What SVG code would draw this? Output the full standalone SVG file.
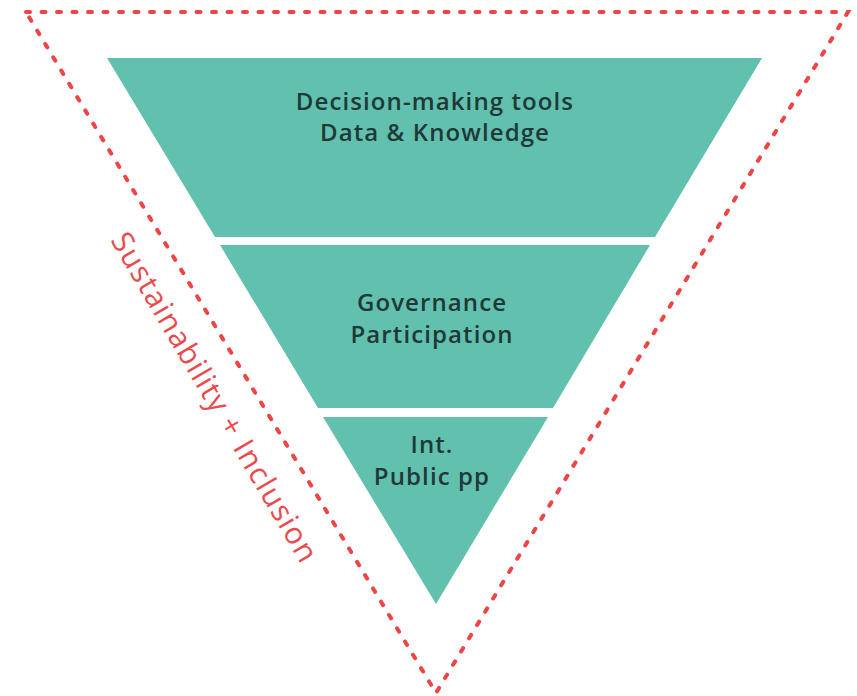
<svg xmlns="http://www.w3.org/2000/svg" width="857" height="696" viewBox="0 0 857 696">
  <style>
    .band { fill: #62c0af; }
    .label { font-family: "Open Sans", "Liberation Sans", sans-serif; font-weight: 600; font-size: 24px; letter-spacing: 1.1px; fill: #1f3936; text-anchor: middle; }
    .frame { fill: none; stroke: #ef4444; stroke-width: 4; stroke-linecap: round; stroke-dasharray: 4 11.5; }
    .side { font-family: "Open Sans", "Liberation Sans", sans-serif; font-weight: 500; font-size: 30px; letter-spacing: 1.3px; fill: #ea4a4c; }
  </style>
  <rect width="857" height="696" fill="#ffffff"/>

  <!-- dashed outer frame -->
  <g id="connectors">
    <path class="frame" d="M26 12 L848 12 L436 693 Z"/>
  </g>

  <!-- top band -->
  <g id="band-top">
    <polygon class="band" points="107,58 762,58 655,237 215,237"/>
    <text class="label" x="435" y="110">Decision-making tools</text>
    <text class="label" x="435" y="141">Data &amp; Knowledge</text>
  </g>

  <!-- middle band -->
  <g id="band-middle">
    <polygon class="band" points="220,245 650,245 553,408 318,408"/>
    <text class="label" x="432" y="311">Governance</text>
    <text class="label" x="432" y="343">Participation</text>
  </g>

  <!-- bottom band -->
  <g id="band-bottom">
    <polygon class="band" points="323,417 548,417 436,604"/>
    <text class="label" x="432" y="453">Int.</text>
    <text class="label" x="432" y="485">Public pp</text>
  </g>

  <!-- side caption -->
  <g id="caption">
    <text class="side" transform="translate(110,240) rotate(59.5)">Sustainability + Inclusion</text>
  </g>
</svg>
